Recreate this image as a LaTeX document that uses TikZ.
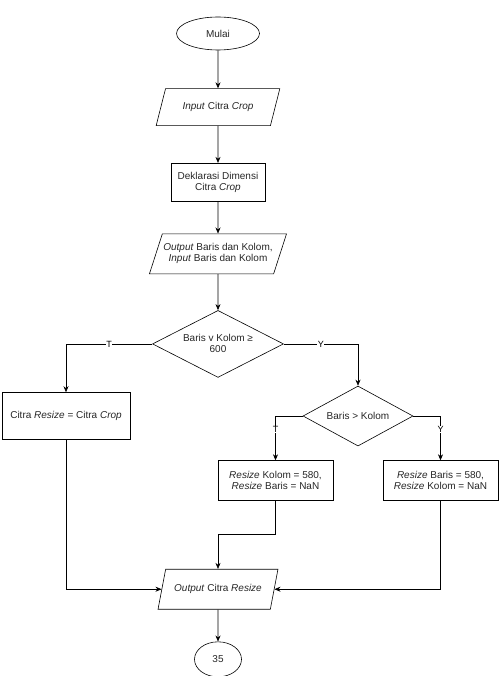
\documentclass[tikz,border=0pt]{standalone}
\usepackage{fontspec}
\setmainfont{Liberation Sans}
\usetikzlibrary{arrows.meta,
                positioning,
                shapes.geometric}

\begin{document}
\begin{tikzpicture}[
    node distance = 35pt,
    font=\fontsize{10pt}{11pt}\selectfont,
      base/.style = {draw, line width=0.6pt, align=center, text=black!85, inner sep=1pt},
 startstop/.style = {base, ellipse},
   process/.style = {base, rectangle},
        io/.style = {base, trapezium, trapezium stretches=true,
                     trapezium left angle=60, trapezium right angle=120},
  decision/.style = {base, diamond, aspect=2},
     label/.style = {fill=white, inner sep=0.5pt, font=\fontsize{9pt}{10pt}\selectfont},
        line/.style = {line width=0.6pt, -{Stealth[length=6pt,width=5pt]}}
                    ]
  \useasboundingbox (0,0) rectangle (503pt,-676pt);
  \node [startstop, minimum width=83pt, minimum height=33pt] (mulai) at (218pt,-33.5pt) {Mulai};
  \node [io, below=38pt of mulai, minimum width=124pt, minimum height=37pt] (inCrop) {\textit{Input} Citra \textit{Crop}};
  \node [process, below=37pt of inCrop, minimum width=94pt, minimum height=38pt] (deklarasi) {Deklarasi Dimensi\\ Citra \textit{Crop}};
  \node [io, below=32pt of deklarasi, minimum width=128pt, minimum height=40pt] (outBaris) {\textit{Output} Baris dan Kolom,\\ \textit{Input} Baris dan Kolom};
  \node [decision, below=36pt of outBaris, minimum width=131pt, minimum height=67pt] (decisi1) {Baris v Kolom ≥\\ 600};
  %
  \node [process, below=14.5pt of decisi1, xshift=-152pt, minimum width=128pt, minimum height=47pt] (resize0) {Citra \textit{Resize} = Citra \textit{Crop}};
  \node [decision, below=8pt of decisi1, xshift=140pt, minimum width=110pt, minimum height=60pt] (decisi2) {Baris > Kolom};
  \node [process, below=14pt of decisi2, xshift=-82.5pt, minimum width=115pt, minimum height=40pt] (resize1) {\textit{Resize} Kolom = 580,\\ \textit{Resize} Baris = NaN};
  \node [process, below=14pt of decisi2, xshift=82.5pt, minimum width=115pt, minimum height=40pt] (resize2) {\textit{Resize} Baris = 580,\\ \textit{Resize} Kolom = NaN};
  %
  \node [io, below=68pt of resize1, xshift=-57.5pt, minimum width=120pt, minimum height=40pt] (outResize) {\textit{Output} Citra \textit{Resize}};
  \node [startstop, below=32pt of outResize, minimum width=47pt, minimum height=35pt] (akhir) {35};
  %---
  \draw [line]
    (mulai) edge (inCrop)
    (inCrop) edge (deklarasi)
    (deklarasi) edge (outBaris)
    (outBaris) edge (decisi1)
    (outResize) edge (akhir)
    ;
  \draw [line] (decisi1.west) -| node[label, pos=0.25] {T} (resize0.north);
  \draw [line] (decisi1.east) -| node[label, pos=0.25] {Y} (decisi2.north);
  \draw [line] (decisi2.west) -| node[label, pos=0.65] {T} (resize1.north);
  \draw [line] (decisi2.east) -| node[label, pos=0.65] {Y} (resize2.north);
  %
  \draw [line] (resize1.south) -- ++(0,-33pt) -| (outResize.north);
  \draw [line] (resize0.south) |- (outResize.west);
  \draw [line] (resize2.south) |- (outResize.east);
\end{tikzpicture}
\end{document}
